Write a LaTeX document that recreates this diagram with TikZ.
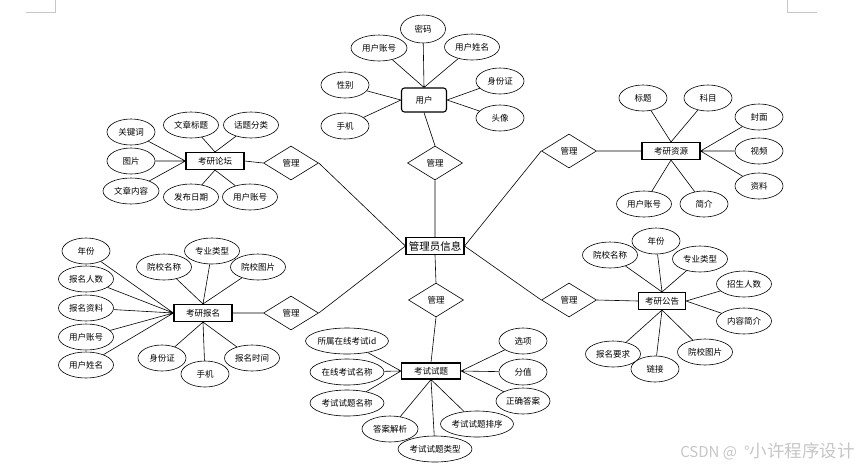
\documentclass[tikz,border=0pt]{standalone}
\usepackage{fontspec}
\setmainfont{Noto Sans CJK SC}
\usetikzlibrary{shapes.geometric}

\tikzset{
  attr/.style={ellipse, draw, fill=white, inner sep=0pt, minimum width=48pt, minimum height=26pt, font=\fontsize{8.5}{9}\selectfont},
  ent/.style={rectangle, draw, fill=white, line width=1.1pt, inner sep=0pt, minimum width=58pt, minimum height=17pt, font=\fontsize{8.5}{9}\selectfont},
  rel/.style={diamond, draw, fill=white, inner sep=0pt, minimum width=55pt, minimum height=34pt, font=\fontsize{8.5}{9}\selectfont}
}

\begin{document}
\begin{tikzpicture}[x=1pt, y=-1pt, line width=0.6pt]
		\useasboundingbox (0,0) rectangle (865,467);
		\draw[gray!45] (26,12) -- (55,12) -- (55,0);
		\draw[gray!45] (787,0) -- (787,12) -- (817,12);

		\node[ent, font=\fontsize{10.5}{11}\selectfont]  (admin) at (435,246) {管理员信息};

		\node[ent, rounded corners=3pt, minimum width=45pt, minimum height=24pt] (user) at (424,100) {用户};
		\node[attr, minimum width=45pt, minimum height=28pt] (u1) at (423,29) {密码};
		\node[attr, minimum width=56pt]   (u2) at (379,48) {用户账号};
		\node[attr, minimum width=55pt]   (u3) at (472,47) {用户姓名};
		\node[attr]                       (u4) at (345,85) {性别};
		\node[attr]                       (u5) at (345,126) {手机};
		\node[attr]                       (u6) at (500,81) {身份证};
		\node[attr]                       (u7) at (500,118) {头像};
		\node[rel]                        (r1) at (435,163) {管理};

		\node[ent]                        (forum) at (215,161) {考研论坛};
		\node[attr]                       (f1) at (131,132) {关键词};
		\node[attr]                       (f2) at (131,161) {图片};
		\node[attr, minimum width=56pt]   (f3) at (131,191) {文章内容};
		\node[attr, minimum width=55pt]   (f4) at (191,125) {文章标题};
		\node[attr, minimum width=55pt]   (f5) at (251,125) {话题分类};
		\node[attr, minimum width=55pt]   (f6) at (191,197) {发布日期};
		\node[attr, minimum width=55pt]   (f7) at (250,197) {用户账号};
		\node[rel]                        (r2) at (291,163) {管理};

		\node[ent]                        (res) at (671,151) {考研资源};
		\node[attr]                       (s1) at (643,98) {标题};
		\node[attr]                       (s2) at (708,98) {科目};
		\node[attr]                       (s3) at (759,117) {封面};
		\node[attr]                       (s4) at (759,151) {视频};
		\node[attr]                       (s5) at (759,186) {资料};
		\node[attr, minimum width=55pt]   (s6) at (644,204) {用户账号};
		\node[attr]                       (s7) at (704,204) {简介};
		\node[rel]                        (r3) at (569,151) {管理};

		\node[ent]                        (sign) at (203,313) {考研报名};
		\node[attr]                       (b1) at (86,251) {年份};
		\node[attr, minimum width=55pt]   (b2) at (86,279) {报名人数};
		\node[attr, minimum width=55pt]   (b3) at (86,308) {报名资料};
		\node[attr, minimum width=55pt]   (b4) at (86,337) {用户账号};
		\node[attr, minimum width=55pt]   (b5) at (86,365) {用户姓名};
		\node[attr, minimum width=55pt]   (b6) at (164,267) {院校名称};
		\node[attr, minimum width=55pt]   (b7) at (212,251) {专业类型};
		\node[attr, minimum width=55pt]   (b8) at (258,267) {院校图片};
		\node[attr]                       (b9) at (162,358) {身份证};
		\node[attr]                       (b10) at (205,374) {手机};
		\node[attr, minimum width=55pt]   (b11) at (252,358) {报名时间};
		\node[rel]                        (r4) at (291,313) {管理};

		\node[ent, minimum width=47pt]    (note) at (662,301) {考研公告};
		\node[attr]                       (n1) at (656,241) {年份};
		\node[attr, minimum width=55pt]   (n2) at (610,255) {院校名称};
		\node[attr, minimum width=55pt]   (n3) at (700,259) {专业类型};
		\node[attr, minimum width=55pt]   (n4) at (744,284) {招生人数};
		\node[attr, minimum width=55pt]   (n5) at (744,321) {内容简介};
		\node[attr, minimum width=55pt]   (n6) at (613,354) {报名要求};
		\node[attr]                       (n7) at (655,369) {链接};
		\node[attr, minimum width=55pt]   (n8) at (705,352) {院校图片};
		\node[rel]                        (r5) at (569,300) {管理};

		\node[ent, minimum width=59pt, minimum height=16pt] (exam) at (431,371) {考试试题};
		\node[attr, minimum width=82pt]   (e1) at (347,341) {所属在线考试id};
		\node[attr, minimum width=74pt]   (e2) at (347,372) {在线考试名称};
		\node[attr, minimum width=74pt]   (e3) at (347,403) {考试试题名称};
		\node[attr, minimum width=56pt]   (e4) at (390,429) {答案解析};
		\node[attr, minimum width=74pt]   (e5) at (435,449) {考试试题类型};
		\node[attr, minimum width=73pt]   (e6) at (477,424) {考试试题排序};
		\node[attr]                       (e7) at (523,341) {选项};
		\node[attr]                       (e8) at (523,372) {分值};
		\node[attr, minimum width=54pt]   (e9) at (523,401) {正确答案};
		\node[rel]                        (r6) at (436,300) {管理};

		\draw (u1) -- (user.north)  (u2) -- (user.north)  (u3) -- (user.north)
		      (u4) -- (user.west)   (u5) -- (user.west)
		      (u6) -- (user.east)   (u7) -- (user.east)
		      (user.south) -- (r1.north)  (r1.south) -- (admin.north);

		\draw (f1) -- (forum.west)  (f2) -- (forum.west)  (f3) -- (forum.west)
		      (f4) -- (forum.north) (f5) -- (forum.north)
		      (f6) -- (forum.south) (f7) -- (forum.south)
		      (forum.east) -- (r2.west)  (r2.east) -- (admin.west);

		\draw (s1) -- (res.north)  (s2) -- (res.north)
		      (s3) -- (res.east)   (s4) -- (res.east)   (s5) -- (res.east)
		      (s6) -- (res.south)  (s7) -- (res.south)
		      (r3.east) -- (res.west)  (r3.west) -- (admin.east);

		\draw (b1) -- (sign.west)  (b2) -- (sign.west)  (b3) -- (sign.west)
		      (b4) -- (sign.west)  (b5) -- (sign.west)
		      (b6) -- (sign.north) (b7) -- (sign.north) (b8) -- (sign.north)
		      (b9) -- (sign.south) (b10) -- (sign.south) (b11) -- (sign.south)
		      (sign.east) -- (r4.west)  (r4.east) -- (admin.west);

		\draw (n1) -- (note.north) (n2) -- (note.north) (n3) -- (note.north)
		      (n4) -- (note.east)  (n5) -- (note.east)
		      (n6) -- (note.south) (n7) -- (note.south) (n8) -- (note.south)
		      (r5.east) -- (note.west)  (r5.west) -- (admin.east);

		\draw (e1) -- (exam.west)  (e2) -- (exam.west)  (e3) -- (exam.west)
		      (e4) -- (exam.south) (e5) -- (exam.south) (e6) -- (exam.south)
		      (e7) -- (exam.east)  (e8) -- (exam.east)  (e9) -- (exam.east)
		      (admin.south) -- (r6.north)  (r6.south) -- (exam.north);

		\node[anchor=west, inner sep=0pt, text=gray!45, font=\fontsize{15}{16}\selectfont] (mark) at (680,451) {CSDN @\hspace{7pt}°{\fontsize{17.5}{18}\selectfont 小许程序设计}};
\end{tikzpicture}
\end{document}
